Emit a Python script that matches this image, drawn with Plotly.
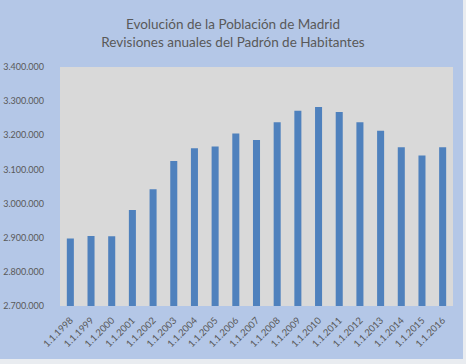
import plotly.graph_objects as go

categories = ["1.1.1998", "1.1.1999", "1.1.2000", "1.1.2001", "1.1.2002", "1.1.2003",
              "1.1.2004", "1.1.2005", "1.1.2006", "1.1.2007", "1.1.2008", "1.1.2009",
              "1.1.2010", "1.1.2011", "1.1.2012", "1.1.2013", "1.1.2014", "1.1.2015",
              "1.1.2016"]
population = [2898000, 2905000, 2904000, 2981000, 3042000, 3125000, 3162000, 3167000,
              3205000, 3186000, 3238000, 3272000, 3283000, 3268000, 3238000, 3213000,
              3165000, 3141000, 3165000]
y_ticks = [2700000, 2800000, 2900000, 3000000, 3100000, 3200000, 3300000, 3400000]

W, H = 466, 364
L, R, T, B = 60, 13, 67, 58
pw, ph = W - L - R, H - T - B

def px_x(x):
    return (x - L) / pw

def px_y(y):
    return (H - B - y) / ph

fig = go.Figure()
fig.add_trace(go.Bar(x=categories, y=population, marker_color="#4f81bd",
                     marker_line_width=0, hoverinfo="skip"))

fig.update_layout(
    width=W, height=H,
    margin=dict(l=L, r=R, t=T, b=B, autoexpand=False),
    paper_bgcolor="#b4c7e7",
    plot_bgcolor="#d9d9d9",
    separators=",.",
    bargap=0.66,
    showlegend=False,
    font=dict(family="Lato, 'Open Sans', sans-serif", color="#595959"),
    title=dict(
        text="Evolución de la Población de Madrid<br>Revisiones anuales del Padrón de Habitantes",
        x=0.5, xref="container", xanchor="center",
        y=1 - 29 / H, yref="container", yanchor="middle",
        font=dict(size=13.5, color="#595959", family="Lato, sans-serif"),
    ),
    shapes=[
        dict(type="rect", xref="paper", yref="paper",
             x0=px_x(463), x1=px_x(W + 2), y0=px_y(H + 2), y1=px_y(-2),
             fillcolor="#e9ecf0", line_width=0, layer="below"),
        dict(type="rect", xref="paper", yref="paper",
             x0=px_x(-2), x1=px_x(W + 2), y0=px_y(H + 2), y1=px_y(359),
             fillcolor="#e9ecf0", line_width=0, layer="below"),
    ],
    xaxis=dict(tickangle=-45, tickfont=dict(size=9.5, color="#595959"),
               showgrid=False, showline=False, zeroline=False, ticks="",
               automargin=False, ticklabelstandoff=6),
    yaxis=dict(range=[2700000, 3400000], tickvals=y_ticks, tickformat=",d",
               tickfont=dict(size=9, color="#595959"), showgrid=False,
               zeroline=False, showline=False, ticklabelstandoff=15,
               automargin=False),
)

fig.write_html("out.html", config={"displayModeBar": False},
               post_script="document.body.style.margin='0';document.body.style.overflow='hidden';")
